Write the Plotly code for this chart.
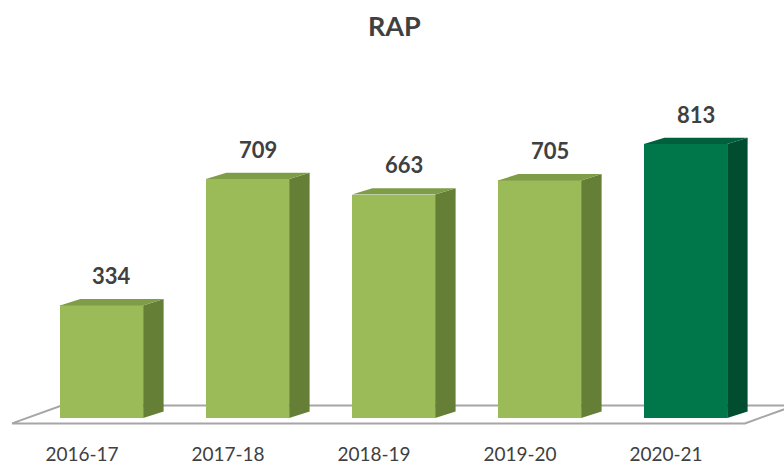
import plotly.graph_objects as go

# Data
categories = ["2016-17", "2017-18", "2018-19", "2019-20", "2020-21"]
values = [334, 709, 663, 705, 813]
title_text = "RAP"

# Per-bar palette: (front, side, top)
light = ("#9bbb59", "#667f37", "#7f9c47")
dark = ("#00774b", "#004d2f", "#00603c")
palettes = [light, light, light, light, dark]

# 3-D bar geometry in axis units
bar_shift = 0.134      # front face centre relative to category position
bar_width = 0.57
depth_x = 0.14
depth_y = 19.0

# Floor plane (axis units)
floor_left, floor_right = -0.479, 4.541
floor_front, floor_back = -16.0, 37.0
floor_depth_x = 0.34

text_color = "#404040"
font_family = "Lato, 'Open Sans', sans-serif"

xs = list(range(len(categories)))
fig = go.Figure()

# Front faces
fig.add_trace(go.Bar(
    x=[i + bar_shift for i in xs],
    y=values,
    width=bar_width,
    marker=dict(color=[p[0] for p in palettes], line=dict(width=0)),
    hoverinfo="skip",
    showlegend=False,
))

# Side and top faces
for i, v, pal in zip(xs, values, palettes):
    xl = i + bar_shift - bar_width / 2
    xr = xl + bar_width
    fig.add_trace(go.Scatter(
        x=[xr, xr + depth_x, xr + depth_x, xr, xr],
        y=[0, depth_y, v + depth_y, v, 0],
        fill="toself", fillcolor=pal[1], mode="lines",
        line=dict(width=0, color=pal[1]),
        hoverinfo="skip", showlegend=False,
    ))
    fig.add_trace(go.Scatter(
        x=[xl, xr, xr + depth_x, xl + depth_x, xl],
        y=[v, v, v + depth_y, v + depth_y, v],
        fill="toself", fillcolor=pal[2], mode="lines",
        line=dict(width=0, color=pal[2]),
        hoverinfo="skip", showlegend=False,
    ))
    fig.add_annotation(
        x=i + bar_shift + depth_x / 2, y=v, yshift=30,
        text=f"<b>{v}</b>", showarrow=False,
        font=dict(family=font_family, size=22, color=text_color),
        xanchor="center", yanchor="middle",
    )

# Floor
floor_path = (
    f"M {floor_left},{floor_front} "
    f"L {floor_right},{floor_front} "
    f"L {floor_right + floor_depth_x},{floor_back} "
    f"L {floor_left + floor_depth_x},{floor_back} Z"
)
fig.add_shape(
    type="path", path=floor_path, xref="x", yref="y", layer="below",
    fillcolor="white", line=dict(color="#a6a6a6", width=2),
)

fig.update_layout(
    width=784, height=466,
    margin=dict(l=0, r=0, t=0, b=30, autoexpand=False),
    paper_bgcolor="white", plot_bgcolor="white",
    title=dict(
        text=f"<b>{title_text}</b>", x=0.503, xanchor="center",
        y=1 - 27 / 466, yanchor="middle", yref="container",
        font=dict(family=font_family, size=27, color=text_color),
    ),
    xaxis=dict(
        range=[-0.5616, 4.8083], tickvals=xs, ticktext=categories,
        showgrid=False, zeroline=False, showline=False,
        ticks="outside", ticklen=1, tickcolor="rgba(0,0,0,0)",
        tickfont=dict(family=font_family, size=19, color=text_color),
        automargin=False, fixedrange=True,
    ),
    yaxis=dict(
        range=[-53.4, 1240.4], showgrid=False, zeroline=False,
        showline=False, showticklabels=False, automargin=False,
        fixedrange=True,
    ),
    bargap=0,
)

fig.write_html("out.html")
